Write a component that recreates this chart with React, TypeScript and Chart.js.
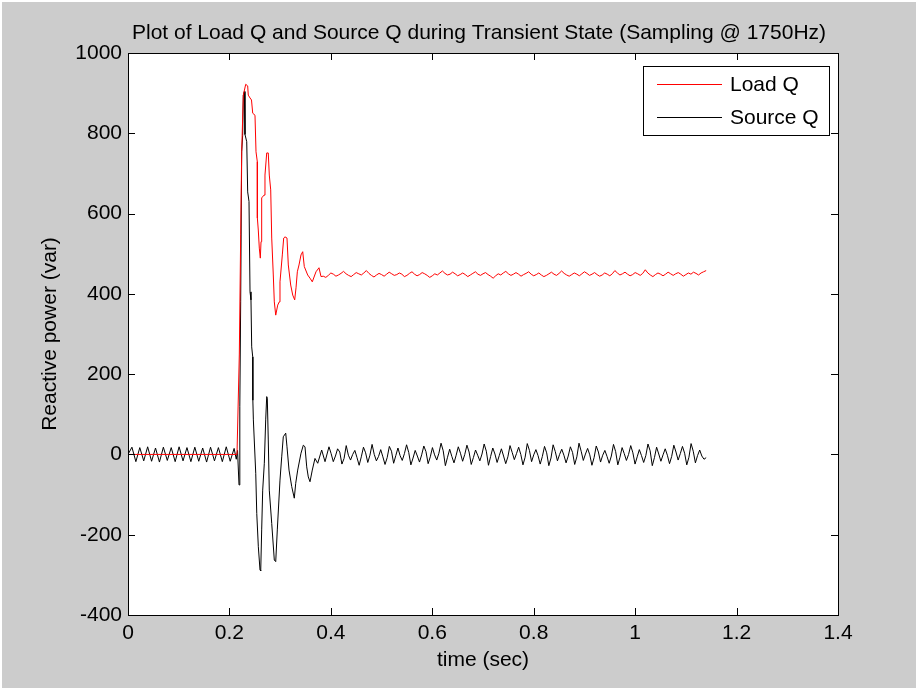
import React, { useEffect, useRef } from "react";
import { Chart, registerables } from "chart.js";

Chart.register(...registerables);

const chartTitle = "Plot of Load Q and Source Q during Transient State (Sampling @ 1750Hz)";
const xAxisTitle = "time (sec)";
const yAxisTitle = "Reactive power (var)";
const seriesNames = ["Load Q", "Source Q"];
const seriesColors = ["#ff0000", "#000000"];
const xTickValues = [0, 0.2, 0.4, 0.6, 0.8, 1, 1.2, 1.4];
const yTickValues = [-400, -200, 0, 200, 400, 600, 800, 1000];

// Load Q: transient part (time in s, value in var)
const loadTransTime = [
  0, 0.2149, 0.2195, 0.2222, 0.2242, 0.2274, 0.2321, 0.236, 0.2372, 0.2406, 0.2435, 0.2459, 0.2504,
  0.2524, 0.255, 0.2551, 0.2569, 0.2589, 0.2609, 0.2623, 0.2636, 0.2682, 0.2701, 0.2735, 0.2766,
  0.2786, 0.2814, 0.2834, 0.2865, 0.2885, 0.2913, 0.2952, 0.2983, 0.2997, 0.3043, 0.307, 0.3096,
  0.3135, 0.3161, 0.3208, 0.3248, 0.3287, 0.3313, 0.3339, 0.3372, 0.3411, 0.3445, 0.3476, 0.3543,
  0.3589, 0.3634, 0.3707, 0.3766, 0.3806,
];
const loadTransQ = [
  0, 0, 250, 547, 754, 895, 922, 918, 895, 888, 883, 850, 845,
  754, 729, 589, 559, 514, 489, 530, 639, 646, 696, 751, 751,
  696, 659, 539, 447, 380, 347, 372, 380, 430, 497, 539, 542,
  539, 472, 422, 397, 385, 415, 455, 472, 497, 505, 468, 447,
  439, 430, 455, 465, 443,
];
// Load Q: steady part, sampled every loadSteadyStep seconds from loadSteadyStart
const loadSteadyStart = 0.385;
const loadSteadyStep = 0.005;
const loadSteadyQ = [
  444, 441, 446, 452, 449, 444, 447, 451, 456, 450,
  446, 443, 448, 453, 450, 447, 452, 458, 451, 446,
  442, 447, 451, 448, 444, 449, 454, 450, 446, 448,
  452, 449, 443, 446, 451, 455, 449, 445, 448, 453,
  450, 446, 441, 445, 450, 447, 452, 457, 451, 447,
  449, 454, 450, 445, 448, 452, 448, 443, 447, 451,
  455, 449, 446, 450, 453, 448, 444, 439, 445, 450,
  447, 452, 456, 450, 446, 449, 453, 449, 444, 448,
  451, 455, 449, 445, 448, 452, 447, 443, 446, 450,
  454, 449, 446, 451, 457, 451, 447, 444, 448, 452,
  449, 445, 450, 455, 451, 446, 449, 453, 448, 444,
  447, 452, 449, 445, 450, 458, 452, 447, 450, 454,
  449, 445, 448, 453, 450, 446, 451, 460, 452, 447,
  443, 448, 452, 449, 445, 449, 454, 450, 446, 450,
  453, 449, 444, 448, 452, 449, 454, 451, 447, 452,
  455, 458,
];

// Source Q: ripple before the transient, sampled every sourcePreStep seconds from sourcePreStart
const sourcePreStart = 0;
const sourcePreStep = 0.00775;
const sourcePreQ = [
  0, 18, -18, 17, -16, 19, -17, 16, -19, 18, -15, 17, -18, 19,
  -16, 17, -18, 18, -17, 16, -19, 18, -16, 17, -18, 19, -17, 15,
];
// Source Q: transient part
const sourceTransTime = [
  0.2135, 0.216, 0.2189, 0.2205, 0.2222, 0.2242, 0.2261, 0.2274, 0.2294, 0.2307, 0.2341, 0.236,
  0.2386, 0.2406, 0.2425, 0.2439, 0.2459, 0.2462, 0.2472, 0.2519, 0.2539, 0.257, 0.2603, 0.2617,
  0.2636, 0.2656, 0.2688, 0.2715, 0.2735, 0.2747, 0.2766, 0.2786, 0.2834, 0.2885, 0.2913, 0.2944,
  0.2997, 0.3031, 0.3062, 0.311, 0.3135, 0.3175, 0.3228, 0.3279, 0.3307, 0.3346, 0.3411, 0.3457,
  0.349, 0.3524, 0.3555, 0.3589, 0.3634, 0.3687, 0.3741, 0.3819, 0.3885,
];
const sourceTransQ = [
  -12, 10, -76, 120, 380, 754, 795, 895, 904, 797, 779, 654,
  630, 405, 385, 268, 243, 135, 86, -47, -147, -230, -288, -290,
  -188, -89, -22, 86, 144, 140, 36, -89, -172, -263, -267, -188,
  -64, -6, 44, 53, 19, -39, -80, -109, -72, -39, 3, 23,
  19, -31, -56, -68, -39, -10, -22, 11, -18,
];
// Source Q: steady ripple, sampled every sourceSteadyStep seconds from sourceSteadyStart
const sourceSteadyStart = 0.3963;
const sourceSteadyStep = 0.00425;
const sourceSteadyQ = [
  19, 2, -18, -4, 14, 6, -24, -10, 22, -2, -14, 0, 10, -8, -27, -6,
  18, 4, -20, -2, 25, 0, -16, -5, 12, -6, -25, -8, 20, 8, -22, -3,
  16, -3, -15, 2, 24, 5, -26, -9, 10, -4, -19, -1, 21, 7, -23, -6,
  17, -1, -14, 3, 28, 9, -28, -7, 13, -5, -21, -2, 19, 3, -17, 0,
  23, 6, -25, -8, 11, -2, -16, 1, 26, 8, -27, -5, 16, 1, -20, -3,
  14, -4, -23, -6, 22, 5, -13, 2, 18, 0, -26, -7, 27, 10, -18, -1,
  12, -3, -24, -5, 20, 4, -28, -9, 24, 7, -16, 0, 13, -2, -21, -4,
  19, 5, -25, -6, 28, 8, -15, 1, 15, -1, -27, -8, 21, 6, -19, -2,
  10, -5, -22, -4, 25, 7, -26, -7, 17, 2, -15, 0, 22, 4, -24, -6,
  12, -3, -20, -3, 26, 9, -28, -8, 18, 1, -17, -1, 14, -2, -23, -5,
  23, 6, -14, 2, 20, 3, -26, -7, 27, 8, -21, -3, 11, -4, -12, -8,
];

const FONT_FAMILY = '"Liberation Sans", Arial, Helvetica, sans-serif';
const FONT_SIZE = 21;

function gridPoints(start: number, step: number, values: number[]) {
  return values.map((v, i) => ({ x: start + i * step, y: v }));
}
function pairPoints(times: number[], values: number[]) {
  return times.map((t, i) => ({ x: t, y: values[i] }));
}

const loadPoints = [
  ...pairPoints(loadTransTime, loadTransQ),
  ...gridPoints(loadSteadyStart, loadSteadyStep, loadSteadyQ),
];
const sourcePoints = [
  ...gridPoints(sourcePreStart, sourcePreStep, sourcePreQ),
  ...pairPoints(sourceTransTime, sourceTransQ),
  ...gridPoints(sourceSteadyStart, sourceSteadyStep, sourceSteadyQ),
];

const frameLayoutPlugin = {
  id: "matlabFrame",
  beforeDraw(chart: any) {
    const { ctx, width, height, chartArea } = chart;
    ctx.save();
    ctx.fillStyle = "#ffffff";
    ctx.fillRect(0, 0, width, height);
    ctx.fillStyle = "#cccccc";
    ctx.fillRect(2, 2, width - 2, height - 2);
    ctx.fillStyle = "#ffffff";
    ctx.fillRect(chartArea.left, chartArea.top, chartArea.right - chartArea.left, chartArea.bottom - chartArea.top);
    ctx.restore();
  },
  afterDatasetsDraw(chart: any) {
    const { ctx, chartArea } = chart;
    const xs = chart.scales.x;
    const ys = chart.scales.y;
    const L = chartArea.left, R = chartArea.right, T = chartArea.top, B = chartArea.bottom;
    const tl = 7;
    ctx.save();
    ctx.strokeStyle = "#000000";
    ctx.lineWidth = 1;
    ctx.beginPath();
    for (const t of xs.ticks) {
      const px = Math.round(xs.getPixelForValue(t.value)) + 0.5;
      ctx.moveTo(px, B);
      ctx.lineTo(px, B - tl);
      ctx.moveTo(px, T);
      ctx.lineTo(px, T + tl);
    }
    for (const t of ys.ticks) {
      const py = Math.round(ys.getPixelForValue(t.value)) + 0.5;
      ctx.moveTo(L, py);
      ctx.lineTo(L + tl, py);
      ctx.moveTo(R, py);
      ctx.lineTo(R - tl, py);
    }
    ctx.stroke();
    ctx.strokeRect(Math.round(L) + 0.5, Math.round(T) + 0.5, Math.round(R - L), Math.round(B - T));
    ctx.restore();
  },
  afterDraw(chart: any) {
    const { ctx, chartArea } = chart;
    ctx.save();
    ctx.font = `${FONT_SIZE}px ${FONT_FAMILY}`;
    ctx.fillStyle = "#000000";
    ctx.textAlign = "center";
    ctx.textBaseline = "middle";
    ctx.fillText(chartTitle, (chartArea.left + chartArea.right) / 2 - 4, chartArea.top - 20);

    // legend box
    const boxRight = Math.round(chartArea.right) - 9;
    const boxTop = Math.round(chartArea.top) + 13;
    const boxW = 186;
    const boxH = 69;
    const boxLeft = boxRight - boxW;
    ctx.fillStyle = "#ffffff";
    ctx.fillRect(boxLeft, boxTop, boxW, boxH);
    ctx.strokeStyle = "#000000";
    ctx.lineWidth = 1;
    ctx.strokeRect(boxLeft + 0.5, boxTop + 0.5, boxW, boxH);
    const rowYs = [boxTop + 18, boxTop + 51];
    chart.data.datasets.forEach((ds: any, i: number) => {
      const y = rowYs[i];
      ctx.strokeStyle = ds.borderColor;
      ctx.beginPath();
      ctx.moveTo(boxLeft + 14, y + 0.5);
      ctx.lineTo(boxLeft + 79, y + 0.5);
      ctx.stroke();
      ctx.fillStyle = "#000000";
      ctx.textAlign = "left";
      ctx.fillText(ds.label, boxLeft + 87, y + 1);
    });
    ctx.restore();
  },
};

export default function App() {
  const canvasRef = useRef<HTMLCanvasElement | null>(null);

  useEffect(() => {
    document.body.style.margin = "0";
    const canvas = canvasRef.current;
    if (!canvas) return;
    const chart = new Chart(canvas, {
      type: "line",
      data: {
        datasets: [
          {
            label: seriesNames[0],
            data: loadPoints,
            borderColor: seriesColors[0],
            backgroundColor: seriesColors[0],
            borderWidth: 1,
            pointRadius: 0,
            tension: 0,
            fill: false,
          },
          {
            label: seriesNames[1],
            data: sourcePoints,
            borderColor: seriesColors[1],
            backgroundColor: seriesColors[1],
            borderWidth: 1,
            pointRadius: 0,
            tension: 0,
            fill: false,
          },
        ],
      },
      options: {
        responsive: false,
        animation: false,
        devicePixelRatio: 1,
        layout: { padding: { top: 53, right: 78, bottom: 0, left: 0 } },
        plugins: {
          legend: { display: false },
          title: { display: false },
          tooltip: { enabled: false },
        },
        scales: {
          x: {
            type: "linear",
            min: 0,
            max: 1.4,
            grid: { display: false, drawTicks: false },
            border: { display: false },
            afterBuildTicks: (scale: any) => {
              scale.ticks = xTickValues.map((v) => ({ value: v }));
            },
            afterFit: (scale: any) => {
              scale.height = 73;
            },
            ticks: {
              autoSkip: false,
              maxRotation: 0,
              padding: 6,
              color: "#000000",
              font: { family: FONT_FAMILY, size: FONT_SIZE },
              callback: (v: any) => String(Number(Number(v).toFixed(1))),
            },
            title: {
              display: true,
              text: xAxisTitle,
              color: "#000000",
              font: { family: FONT_FAMILY, size: FONT_SIZE },
              padding: { top: 0, bottom: 15 },
            },
          },
          y: {
            type: "linear",
            min: -400,
            max: 1000,
            grid: { display: false, drawTicks: false },
            border: { display: false },
            afterBuildTicks: (scale: any) => {
              scale.ticks = yTickValues.map((v) => ({ value: v }));
            },
            afterFit: (scale: any) => {
              scale.width = 128;
            },
            ticks: {
              autoSkip: false,
              padding: 6,
              color: "#000000",
              font: { family: FONT_FAMILY, size: FONT_SIZE },
              callback: (v: any) => String(Math.round(Number(v))),
            },
            title: {
              display: true,
              text: yAxisTitle,
              color: "#000000",
              font: { family: FONT_FAMILY, size: FONT_SIZE },
              padding: { top: 38, bottom: 0 },
            },
          },
        },
      },
      plugins: [frameLayoutPlugin],
    });
    return () => chart.destroy();
  }, []);

  return (
    <div style={{ width: 916, height: 688 }}>
      <canvas ref={canvasRef} width={916} height={688} style={{ display: "block" }} />
    </div>
  );
}
